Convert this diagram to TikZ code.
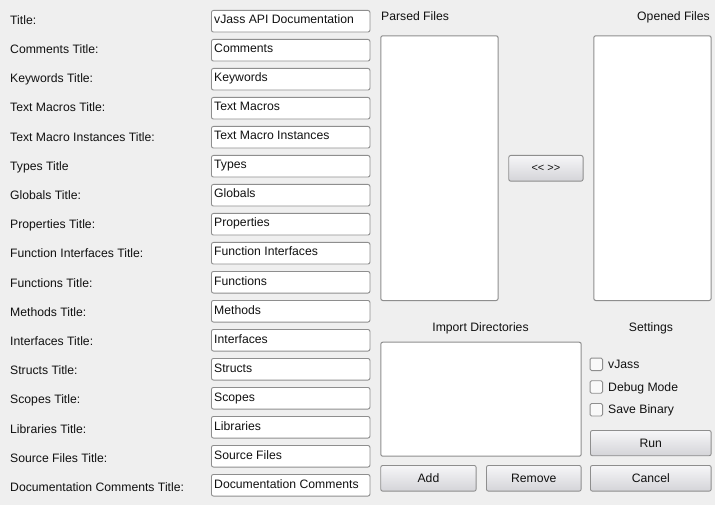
\documentclass[tikz,border=0pt]{standalone}
\usepackage{fontspec}
\setmainfont{Liberation Sans}
\definecolor{bg}{HTML}{EFEFEF}
\definecolor{edge}{HTML}{8E8E8E}
\definecolor{btntop}{HTML}{F6F6F8}
\definecolor{btnbot}{HTML}{D4D4D8}
\definecolor{txt}{HTML}{111111}
\tikzset{
  ui/.style={font=\fontsize{12.2}{14}\selectfont, inner sep=0pt, text=txt},
  field/.style={draw=edge, fill=white, rounded corners=2pt, line width=0.9pt, anchor=north west, inner sep=0pt},
  listbox/.style={draw=edge, fill=white, rounded corners=2pt, line width=1pt, anchor=north west, inner sep=0pt},
  btn/.style={draw=edge, top color=btntop, bottom color=btnbot, rounded corners=2pt, line width=0.9pt, anchor=north west, inner sep=0pt, font=\fontsize{12.2}{14}\selectfont, text=txt},
  chk/.style={draw=edge, fill=white!60!bg, rounded corners=1.5pt, line width=0.9pt, minimum size=12.5pt, inner sep=0pt},
}
\begin{document}
\begin{tikzpicture}[x=1pt,y=-1pt]
\fill[bg] (0,0) rectangle (715,505);
\useasboundingbox (0,0) rectangle (715,505);
% left column: labels and fields
\foreach \lab/\val [count=\i from 0] in {
  Title:/vJass API Documentation,
  Comments Title:/Comments,
  Keywords Title:/Keywords,
  Text Macros Title:/Text Macros,
  Text Macro Instances Title:/Text Macro Instances,
  Types Title/Types,
  Globals Title:/Globals,
  Properties Title:/Properties,
  Function Interfaces Title:/Function Interfaces,
  Functions Title:/Functions,
  Methods Title:/Methods,
  Interfaces Title:/Interfaces,
  Structs Title:/Structs,
  Scopes Title:/Scopes,
  Libraries Title:/Libraries,
  Source Files Title:/Source Files,
  Documentation Comments Title:/Documentation Comments}{
  \node[ui, anchor=base west] (lab\i) at (10, {24.3+29.2*\i}) {\lab};
  \node[field, minimum width=158.5pt, minimum height=21.6pt] (fld\i) at (211, {10+29*\i}) {};
  \node[ui, anchor=base west] (val\i) at (214, {10+29*\i+14}) {\val};
}
% lists
\node[ui, anchor=base west] (parsedlab) at (381, 21) {Parsed Files};
\node[ui, anchor=base east] (openedlab) at (710, 21) {Opened Files};
\node[listbox, minimum width=117.3pt, minimum height=264.7pt] (parsed) at (380.3, 35.3) {};
\node[listbox, minimum width=117.3pt, minimum height=264.7pt] (opened) at (593.3, 35.3) {};
\node[btn, minimum width=74.3pt, minimum height=25.7pt, font=\fontsize{11}{13}\selectfont] (swap) at (508.3, 155) {<{}< >{}>};
% import directories
\node[ui, anchor=base] (implab) at (480.5, 331.3) {Import Directories};
\node[listbox, minimum width=200.4pt, minimum height=114pt] (imports) at (380.3, 341.7) {};
\node[btn, minimum width=95.4pt, minimum height=25.7pt] (add) at (380.3, 465) {Add};
\node[btn, minimum width=94.7pt, minimum height=25.7pt] (remove) at (486, 465) {Remove};
% settings
\node[ui, anchor=base] (setlab) at (651, 331.3) {Settings};
\node[chk] (cb1) at (596.3, 364.3) {};
\node[chk] (cb2) at (596.3, 387) {};
\node[chk] (cb3) at (596.3, 409.7) {};
\node[ui, anchor=base west] (cbl1) at (608, 368.4) {vJass};
\node[ui, anchor=base west] (cbl2) at (608, 391.1) {Debug Mode};
\node[ui, anchor=base west] (cbl3) at (608, 413.8) {Save Binary};
\node[btn, minimum width=120.7pt, minimum height=25.3pt] (run) at (590, 430) {Run};
\node[btn, minimum width=120.7pt, minimum height=25.7pt] (cancel) at (590, 465) {Cancel};
\end{tikzpicture}
\end{document}
